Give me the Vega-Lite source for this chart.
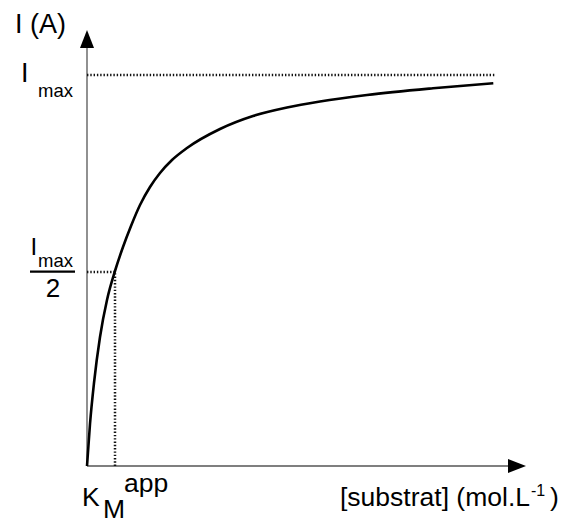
{
  "$schema": "https://vega.github.io/schema/vega-lite/v6.json",
  "width": 443,
  "height": 441,
  "autosize": {"type": "none"},
  "padding": {"left": 87, "top": 25, "right": 37, "bottom": 57},
  "background": "white",
  "config": {"view": {"stroke": null}, "text": {"font": "Liberation Sans", "color": "black"}},
  "datasets": {
    "curve": [
      {"s": 0, "i": 0},
      {"s": 3, "i": 42},
      {"s": 7, "i": 83},
      {"s": 13, "i": 129},
      {"s": 20, "i": 166},
      {"s": 28, "i": 195},
      {"s": 36, "i": 219},
      {"s": 44, "i": 240},
      {"s": 53, "i": 261},
      {"s": 63, "i": 279},
      {"s": 73, "i": 293},
      {"s": 85, "i": 306},
      {"s": 100, "i": 318},
      {"s": 133, "i": 337},
      {"s": 166, "i": 350},
      {"s": 200, "i": 358.5},
      {"s": 233, "i": 364.5},
      {"s": 280, "i": 371},
      {"s": 346, "i": 377.7},
      {"s": 406.3, "i": 382.7}
    ],
    "axes": [
      {"x": 0, "x2": 0, "y": 0, "y2": 420},
      {"x": 0, "x2": 424, "y": 0, "y2": 0}
    ],
    "guides": [
      {"x": 0, "x2": 409, "y": 391, "y2": 391},
      {"x": 0, "x2": 28, "y": 194, "y2": 194},
      {"x": 28, "x2": 28, "y": 0, "y2": 194}
    ],
    "bar": [
      {"x": -57, "x2": -12, "y": 194.3, "y2": 194.3}
    ],
    "arrowUp": [{"x": 0, "y": 427}],
    "arrowRight": [{"x": 430, "y": 0}],
    "big": [
      {"t": "I (A)", "x": -72, "y": 433},
      {"t": "I", "x": -66, "y": 384.3}
    ],
    "mid": [
      {"t": "I", "x": -56.6, "y": 211}
    ],
    "two": [
      {"t": "2", "x": -34, "y": 169.3}
    ],
    "small": [
      {"t": "max", "x": -49, "y": 369.3},
      {"t": "max", "x": -49, "y": 199.3}
    ],
    "axisText": [
      {"t": "K", "x": -5, "y": -40},
      {"t": "M", "x": 16, "y": -51.5},
      {"t": "app", "x": 37, "y": -25.5},
      {"t": "[substrat] (mol.L", "x": 253, "y": -40},
      {"t": ")", "x": 463, "y": -40}
    ],
    "sup": [
      {"t": "-1", "x": 444, "y": -30}
    ]
  },
  "layer": [
    {
      "data": {"name": "axes"},
      "mark": {"type": "rule", "color": "#555", "strokeWidth": 1.3},
      "encoding": {
        "x": {"field": "x", "type": "quantitative", "scale": {"domain": [0, 443], "nice": false, "zero": false}, "axis": null},
        "x2": {"field": "x2"},
        "y": {"field": "y", "type": "quantitative", "scale": {"domain": [0, 441], "nice": false, "zero": false}, "axis": null},
        "y2": {"field": "y2"}
      }
    },
    {
      "data": {"name": "guides"},
      "mark": {"type": "rule", "color": "#111", "strokeWidth": 2.5, "strokeDash": [1.4, 1.9]},
      "encoding": {
        "x": {"field": "x", "type": "quantitative"},
        "x2": {"field": "x2"},
        "y": {"field": "y", "type": "quantitative"},
        "y2": {"field": "y2"}
      }
    },
    {
      "data": {"name": "bar"},
      "mark": {"type": "rule", "color": "black", "strokeWidth": 2.2},
      "encoding": {
        "x": {"field": "x", "type": "quantitative"},
        "x2": {"field": "x2"},
        "y": {"field": "y", "type": "quantitative"},
        "y2": {"field": "y2"}
      }
    },
    {
      "data": {"name": "curve"},
      "mark": {"type": "line", "color": "black", "strokeWidth": 2.6, "interpolate": "monotone"},
      "encoding": {
        "x": {"field": "s", "type": "quantitative"},
        "y": {"field": "i", "type": "quantitative"}
      }
    },
    {
      "data": {"name": "arrowUp"},
      "mark": {"type": "point", "shape": "M0,-1L0.78,1L-0.78,1Z", "filled": true, "color": "black", "opacity": 1, "size": 324},
      "encoding": {
        "x": {"field": "x", "type": "quantitative"},
        "y": {"field": "y", "type": "quantitative"}
      }
    },
    {
      "data": {"name": "arrowRight"},
      "mark": {"type": "point", "shape": "M1,0L-1,-0.78L-1,0.78Z", "filled": true, "color": "black", "opacity": 1, "size": 324},
      "encoding": {
        "x": {"field": "x", "type": "quantitative"},
        "y": {"field": "y", "type": "quantitative"}
      }
    },
    {
      "data": {"name": "big"},
      "mark": {"type": "text", "fontSize": 27, "align": "left", "baseline": "alphabetic"},
      "encoding": {
        "x": {"field": "x", "type": "quantitative"},
        "y": {"field": "y", "type": "quantitative"},
        "text": {"field": "t"}
      }
    },
    {
      "data": {"name": "mid"},
      "mark": {"type": "text", "fontSize": 24, "align": "left", "baseline": "alphabetic"},
      "encoding": {
        "x": {"field": "x", "type": "quantitative"},
        "y": {"field": "y", "type": "quantitative"},
        "text": {"field": "t"}
      }
    },
    {
      "data": {"name": "two"},
      "mark": {"type": "text", "fontSize": 26, "align": "center", "baseline": "alphabetic"},
      "encoding": {
        "x": {"field": "x", "type": "quantitative"},
        "y": {"field": "y", "type": "quantitative"},
        "text": {"field": "t"}
      }
    },
    {
      "data": {"name": "small"},
      "mark": {"type": "text", "fontSize": 18.5, "align": "left", "baseline": "alphabetic"},
      "encoding": {
        "x": {"field": "x", "type": "quantitative"},
        "y": {"field": "y", "type": "quantitative"},
        "text": {"field": "t"}
      }
    },
    {
      "data": {"name": "axisText"},
      "mark": {"type": "text", "fontSize": 26.5, "align": "left", "baseline": "alphabetic"},
      "encoding": {
        "x": {"field": "x", "type": "quantitative"},
        "y": {"field": "y", "type": "quantitative"},
        "text": {"field": "t"}
      }
    },
    {
      "data": {"name": "sup"},
      "mark": {"type": "text", "fontSize": 16, "align": "left", "baseline": "alphabetic"},
      "encoding": {
        "x": {"field": "x", "type": "quantitative"},
        "y": {"field": "y", "type": "quantitative"},
        "text": {"field": "t"}
      }
    }
  ]
}
